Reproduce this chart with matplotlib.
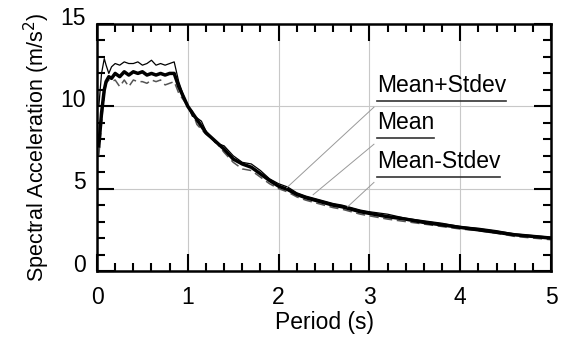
import numpy as np
import matplotlib
matplotlib.use("Agg")
import matplotlib.pyplot as plt
from matplotlib.ticker import MultipleLocator
from matplotlib.transforms import ScaledTranslation

plt.rcParams['font.family'] = ['Liberation Sans', 'DejaVu Sans']

# --- Data ---
period = [0.02, 0.05, 0.08, 0.1, 0.13, 0.16, 0.2, 0.25, 0.3, 0.35, 0.4, 0.45,
          0.5, 0.55, 0.6, 0.65, 0.7, 0.75, 0.8, 0.85, 0.9, 0.95, 1.0, 1.05,
          1.1, 1.15, 1.2, 1.3, 1.4, 1.5, 1.6, 1.7, 1.8, 1.9, 2.0, 2.1, 2.2,
          2.3, 2.4, 2.5, 2.6, 2.7, 2.8, 2.9, 3.0, 3.2, 3.4, 3.6, 3.8, 4.0,
          4.2, 4.4, 4.6, 4.8, 5.0]

sa_mean = [7.6, 9.6, 11.0, 11.5, 11.8, 11.7, 12.0, 11.8, 12.1, 11.9, 12.1, 12.0,
           12.1, 11.9, 12.0, 11.9, 12.0, 11.9, 12.0, 12.0, 11.2, 10.6, 10.0, 9.6,
           9.2, 8.8, 8.4, 7.9, 7.4, 6.8, 6.5, 6.3, 5.9, 5.5, 5.15, 4.95, 4.65,
           4.45, 4.3, 4.15, 4.0, 3.9, 3.75, 3.6, 3.5, 3.3, 3.15, 2.95, 2.8, 2.65,
           2.5, 2.35, 2.2, 2.1, 2.0]

sa_plus = [10.0, 12.0, 12.9, 12.5, 12.0, 12.4, 12.6, 12.5, 12.7, 12.6, 12.6, 12.7,
           12.5, 12.6, 12.8, 12.5, 12.6, 12.5, 12.6, 12.7, 11.5, 10.7, 10.0, 9.4,
           9.3, 9.1, 8.5, 7.8, 7.6, 7.0, 6.6, 6.5, 6.1, 5.6, 5.3, 5.1, 4.75,
           4.55, 4.4, 4.25, 4.1, 4.0, 3.85, 3.7, 3.6, 3.45, 3.2, 3.05, 2.9, 2.7,
           2.6, 2.45, 2.25, 2.15, 2.05]

sa_minus = [7.0, 9.0, 10.8, 11.4, 11.6, 11.5, 11.6, 11.2, 11.6, 11.2, 11.6, 11.5,
            11.5, 11.4, 11.6, 11.5, 11.6, 11.3, 11.4, 11.5, 10.8, 10.4, 10.0, 9.7,
            8.9, 8.6, 8.3, 7.9, 7.2, 6.6, 6.2, 6.1, 5.7, 5.3, 5.0, 4.8, 4.5,
            4.3, 4.15, 4.0, 3.85, 3.75, 3.6, 3.45, 3.35, 3.15, 3.0, 2.85, 2.7, 2.55,
            2.45, 2.3, 2.1, 2.0, 1.9]

# label text, underline anchor (x, y) and leader end point (x, y)
label_names = ['Mean+Stdev', 'Mean', 'Mean-Stdev']
label_xy = [(3.08, 10.3), (3.08, 8.05), (3.08, 5.73)]
leader_end = [(2.09, 5.06), (2.38, 4.63), (2.76, 3.9)]

fig = plt.figure(figsize=(5.63, 3.42), dpi=100)
ax = fig.add_axes([0.1723, 0.2076, 0.8064, 0.7222])

ax.plot(period, sa_minus, color='#555555', lw=1.1, ls=(0, (6, 3)))
ax.plot(period, sa_plus, color='black', lw=0.9)
ax.plot(period, sa_mean, color='black', lw=2.5)

ax.set_xlim(0, 5)
ax.set_ylim(0, 15)
ax.xaxis.set_major_locator(MultipleLocator(1))
ax.xaxis.set_minor_locator(MultipleLocator(0.2))
ax.yaxis.set_major_locator(MultipleLocator(5))
ax.yaxis.set_minor_locator(MultipleLocator(1))
ax.grid(True, which='major', color='#c8c8c8', lw=0.8)
ax.set_axisbelow(True)

ax.tick_params(which='both', direction='in', top=True, right=True,
               width=1.5, labelsize=16.5, colors='black')
ax.tick_params(which='major', length=12)
ax.tick_params(which='minor', length=6)
ax.tick_params(axis='x', which='major', pad=11)
ax.tick_params(axis='y', which='major', pad=8)
for s in ax.spines.values():
    s.set_linewidth(1.8)

# y tick labels sit slightly above their ticks in the original
shift = ScaledTranslation(0, 6 / 72, fig.dpi_scale_trans)
for lab in ax.get_yticklabels():
    lab.set_transform(lab.get_transform() + shift)

ax.set_xlabel('Period (s)', fontsize=16.5, labelpad=1.5)
ax.set_ylabel('Spectral Acceleration (m/s$^2$)', fontsize=15.5, labelpad=6)

# underlined labels with leader lines
for name, (tx, ty), (ex, ey) in zip(label_names, label_xy, leader_end):
    t = ax.text(tx, ty + 0.25, name, fontsize=16.5, ha='left', va='bottom')
    fig.canvas.draw()
    bb = t.get_window_extent().transformed(ax.transData.inverted())
    ax.plot([bb.x0, bb.x1], [ty, ty], color='#333333', lw=1.2)
    ax.plot([bb.x0 - 0.03, ex], [ty - 0.35, ey], color='#999999', lw=0.7)

fig.savefig('out.png', dpi=100)
